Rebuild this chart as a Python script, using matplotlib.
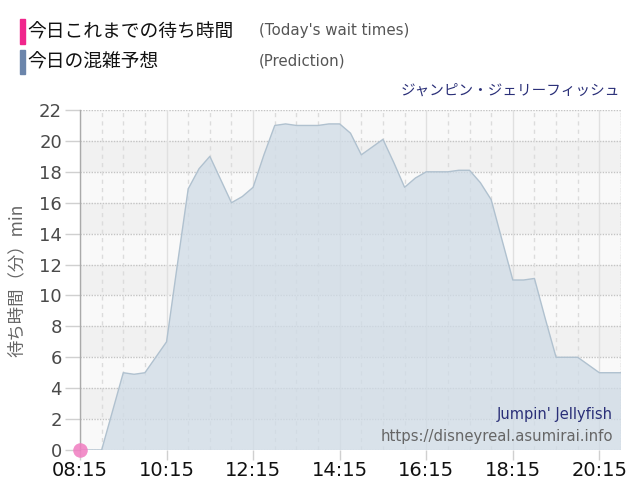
import matplotlib
matplotlib.use("Agg")
import matplotlib.pyplot as plt
from matplotlib.patches import Rectangle
import numpy as np

plt.rcParams['font.family'] = ['DejaVu Sans', 'Noto Sans CJK JP']

# ---------------- data ----------------
times = ["08:15", "08:30", "08:45", "09:00", "09:15", "09:30", "09:45", "10:00",
         "10:15", "10:30", "10:45", "11:00", "11:15", "11:30", "11:45", "12:00",
         "12:15", "12:30", "12:45", "13:00", "13:15", "13:30", "13:45", "14:00",
         "14:15", "14:30", "14:45", "15:00", "15:15", "15:30", "15:45", "16:00",
         "16:15", "16:30", "16:45", "17:00", "17:15", "17:30", "17:45", "18:00",
         "18:15", "18:30", "18:45", "19:00", "19:15", "19:30", "19:45", "20:00",
         "20:15", "20:30", "20:45"]
prediction = [0, 0, 0, 2.5, 5, 4.9, 5, 6,
              7, 12, 16.9, 18.2, 19, 17.5, 16, 16.4,
              17, 19.1, 21, 21.1, 21, 21, 21, 21.1,
              21.1, 20.5, 19.1, 19.6, 20.1, 18.6, 17, 17.6,
              18, 18, 18, 18.1, 18.1, 17.3, 16.2, 13.6,
              11, 11, 11.1, 8.5, 6, 6, 6, 5.5,
              5, 5, 5]
today_times = ["08:15"]
today_values = [0]
x_tick_labels = ["08:15", "10:15", "12:15", "14:15", "16:15", "18:15", "20:15"]
y_ticks = [0, 2, 4, 6, 8, 10, 12, 14, 16, 18, 20, 22]

title_jp = "ジャンピン・ジェリーフィッシュ"
title_en = "Jumpin' Jellyfish"
site = "https://disneyreal.asumirai.info"


def to_h(t):
    h, m = t.split(":")
    return int(h) + int(m) / 60.0


xs = np.array([to_h(t) for t in times])
ys = np.array(prediction, dtype=float)

fig = plt.figure(figsize=(6.4, 5.0), dpi=100)
ax = fig.add_axes([80 / 640, 50 / 500, 541 / 640, 340 / 500])

x0, x1 = to_h("08:15"), to_h("20:45")
ax.set_xlim(x0, x1)
ax.set_ylim(0, 22)

# background bands
ax.set_facecolor("#f9f9f9")
for k, yb in enumerate(range(0, 22, 2)):
    if k % 2 == 1:
        ax.axhspan(yb, yb + 2, color="#f1f1f1", zorder=0, lw=0)

# grid lines
for yv in y_ticks:
    ax.axhline(yv, color="#c4c4c4", lw=1.0, ls=(0, (1, 1)), zorder=1)
for k in range(0, 26):
    xv = x0 + k * 0.5
    if k % 4 == 0:
        ax.axvline(xv, color="#e0e0e0", lw=1.0, zorder=1)
    else:
        ax.axvline(xv, color="#dcdcdc", lw=1.0, ls=(0, (3, 3)), zorder=1)
ax.axvline(x1, color="#c8c8c8", lw=1.0, ls=(0, (1, 1)), zorder=1)

# prediction area
ax.fill_between(xs, ys, 0, facecolor="#cfdbe6", edgecolor="none",
                alpha=0.75, zorder=2)
ax.plot(xs, ys, color="#b0c1cf", lw=1.0, zorder=3)

# today's wait times
ax.scatter([to_h(t) for t in today_times], today_values, s=110,
           color="#f07cc0", alpha=0.85, zorder=5, clip_on=False, lw=0)

# axes styling
for s in ["top", "right", "bottom"]:
    ax.spines[s].set_visible(False)
ax.spines["left"].set_color("#aaaaaa")
ax.spines["left"].set_linewidth(1.0)

ax.set_yticks(y_ticks)
ax.set_yticklabels([str(v) for v in y_ticks], fontsize=13, color="#4a4a4a")
ax.tick_params(axis="y", length=11, color="#d0d0d0", pad=2, width=1)
ax.set_xticks([to_h(t) for t in x_tick_labels])
ax.set_xticklabels(x_tick_labels, fontsize=14, color="#111111")
ax.tick_params(axis="x", length=7, color="#d0d0d0", pad=1, width=1)

ax.set_ylabel("待ち時間（分）min", fontsize=12.5, color="#666666",
              family=['Noto Sans CJK JP', 'DejaVu Sans'], labelpad=2)
ax.yaxis.set_label_coords(-0.1, 0.5)

# watermark texts
ax.text(0.985, 0.105, title_en, transform=ax.transAxes, ha="right", va="center",
        fontsize=10.5, color="#2a2f78")
ax.text(0.985, 0.04, site, transform=ax.transAxes, ha="right", va="center",
        fontsize=10.7, color="#666666")

# header legend
fig.patches.append(Rectangle((20 / 640, 1 - 44 / 500), 5 / 640, 25 / 500,
                             transform=fig.transFigure, color="#f0268c"))
fig.patches.append(Rectangle((20 / 640, 1 - 74 / 500), 5 / 640, 24 / 500,
                             transform=fig.transFigure, color="#6b85ab"))
jp = ['Noto Sans CJK JP', 'DejaVu Sans']
fig.text(27 / 640, 1 - 32 / 500, "今日これまでの待ち時間", fontsize=13.5,
         color="#111111", va="center", ha="left", family=jp)
fig.text(27 / 640, 1 - 62 / 500, "今日の混雑予想", fontsize=13.5,
         color="#111111", va="center", ha="left", family=jp)
fig.text(259 / 640, 1 - 31 / 500, "(Today's wait times)", fontsize=10.8,
         color="#555555", va="center", ha="left")
fig.text(259 / 640, 1 - 61 / 500, "(Prediction)", fontsize=10.8,
         color="#555555", va="center", ha="left")
fig.text(620 / 640, 1 - 91 / 500, title_jp, fontsize=10.5, color="#2a2f78",
         va="center", ha="right", family=jp)

fig.savefig("out.png", dpi=100)
